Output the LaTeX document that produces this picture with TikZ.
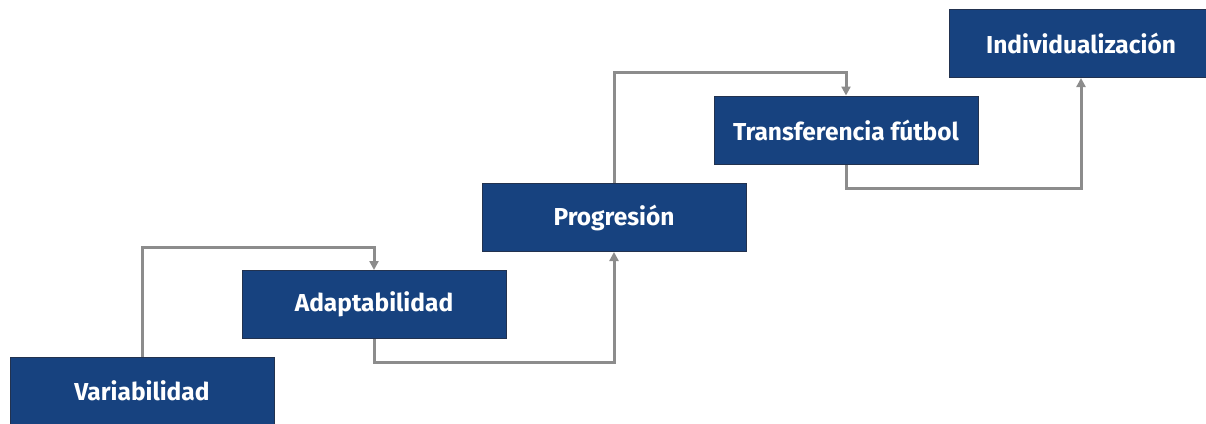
\documentclass[tikz,border=0pt]{standalone}
\usepackage{fontspec}
\setmainfont{Fira Sans}[BoldFont={Fira Sans Bold}]
\usetikzlibrary{arrows.meta}
\definecolor{boxblue}{HTML}{17427F}
\definecolor{boxedge}{HTML}{22324F}
\definecolor{linkgray}{HTML}{8C8C8C}
\tikzset{
  stagebox/.style={draw=boxedge, line width=1pt, fill=boxblue, text=white,
    minimum width=264pt, minimum height=68pt, inner sep=0pt,
    font=\fontsize{24.5}{28}\selectfont\bfseries},
  link/.style={draw=linkgray, line width=3pt,
    -{Triangle[length=9pt,width=9pt]}}
}
\begin{document}
\begin{tikzpicture}[x=1pt,y=-1pt]
  \useasboundingbox (0,0) rectangle (1206,423);
  \clip (0,0) rectangle (1206,423);
  \node[stagebox] (var) at (142,391) {Variabilidad};
  \node[stagebox] (ada) at (374,304.5) {Adaptabilidad};
  \node[stagebox] (pro) at (614,217.5) {Progresión};
  \node[stagebox] (tra) at (846,130) {Transferencia fútbol};
  \node[stagebox] (ind) at (1081,43.5) {Individualización};
  % steps upward: run above the next box and drop onto it
  \draw[link] (var.north) |- ([yshift=23pt]ada.north) -- (ada.north);
  \draw[link] (pro.north) |- ([yshift=23pt]tra.north) -- (tra.north);
  % steps downward: run below the box and rise into the next one
  \draw[link] (ada.south) -- ++(0,23) -| (pro.south);
  \draw[link] (tra.south) -- ++(0,24) -| (ind.south);
\end{tikzpicture}
\end{document}
